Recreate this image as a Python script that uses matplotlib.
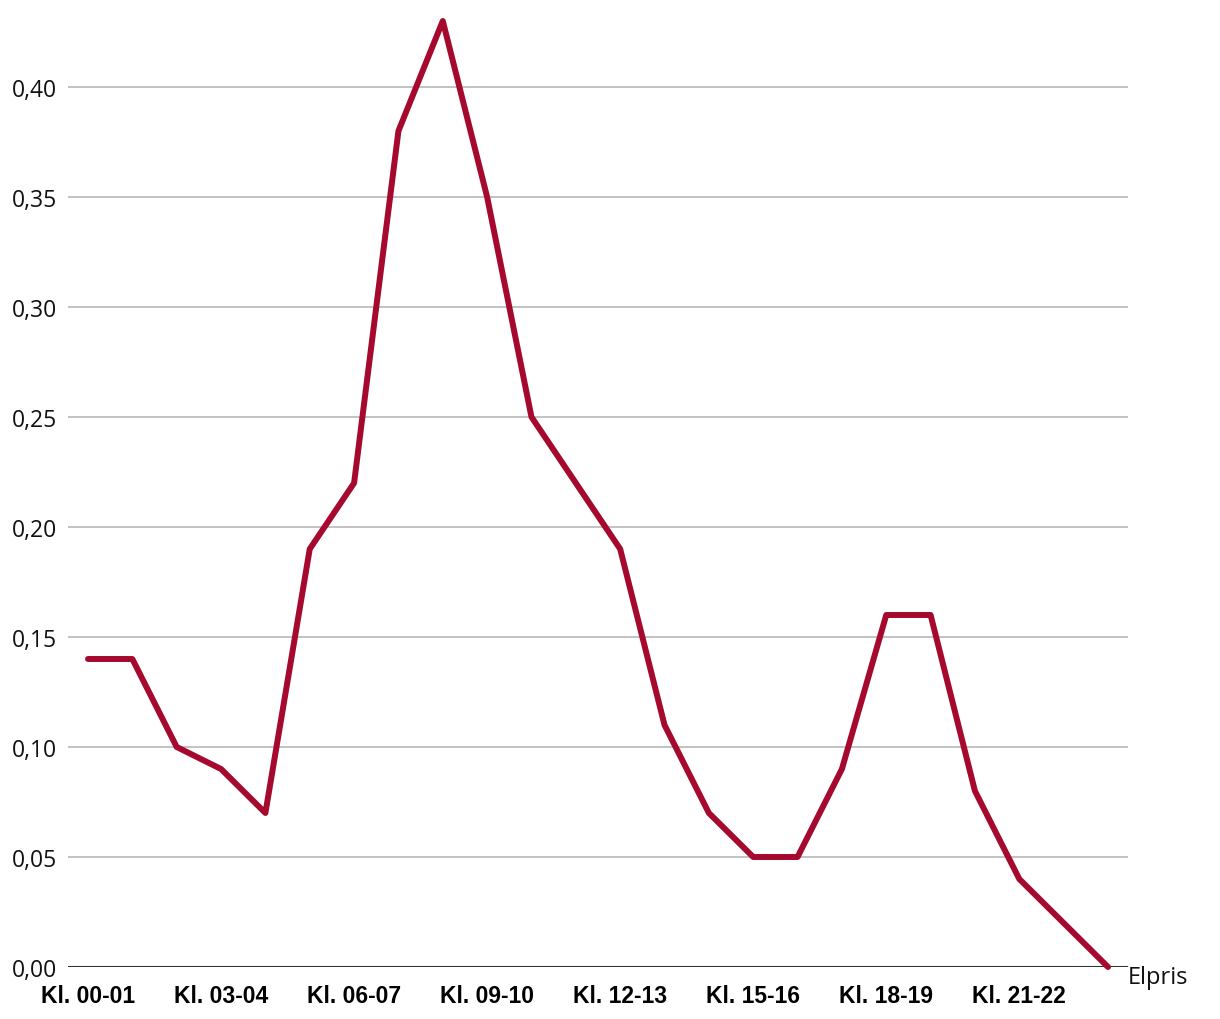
import matplotlib
matplotlib.use("Agg")
import matplotlib.pyplot as plt

hours = ["Kl. %02d-%02d" % (h, h + 1) for h in range(24)]
prices = [0.14, 0.14, 0.10, 0.09, 0.07, 0.19, 0.22, 0.38, 0.43, 0.35, 0.25, 0.22,
          0.19, 0.11, 0.07, 0.05, 0.05, 0.09, 0.16, 0.16, 0.08, 0.04, 0.02, 0.00]
yticks = [0.0, 0.05, 0.10, 0.15, 0.20, 0.25, 0.30, 0.35, 0.40]
series_name = "Elpris"

fig = plt.figure(figsize=(12.2, 10.2), dpi=100)
ax = fig.add_axes([68 / 1220, 52 / 1020, 1060 / 1220, 968 / 1020])

x = list(range(len(prices)))
ax.plot(x, prices, color="#A50A2E", linewidth=4.3, solid_joinstyle="round",
        solid_capstyle="round", clip_on=False, zorder=3)

ax.set_xlim(-0.451, 23.451)
ax.set_ylim(0, 0.44)

ax.set_yticks(yticks)
ax.set_yticklabels([("%.2f" % v).replace(".", ",") for v in yticks],
                   fontfamily="Open Sans", fontsize=16.5, color="#111111")
ax.set_xticks(x[::3])
ax.set_xticklabels(hours[::3], fontfamily="Liberation Sans", fontweight="bold",
                   fontsize=16.5, color="#000000")
ax.tick_params(axis="both", length=0)
ax.tick_params(axis="y", pad=8)
ax.tick_params(axis="x", pad=12)

for v in yticks[1:]:
    ax.axhline(v, color="#bdbdbd", linewidth=1.3, zorder=1)
ax.axhline(0, color="#333333", linewidth=1.5, zorder=2)

for s in ax.spines.values():
    s.set_visible(False)

ax.annotate(series_name, xy=(x[-1], prices[-1]), xytext=(14, -7),
            textcoords="offset points", fontfamily="Open Sans", fontsize=17,
            color="#111111", va="center", ha="left", annotation_clip=False)

fig.savefig("out.png", dpi=100)
plt.close(fig)
